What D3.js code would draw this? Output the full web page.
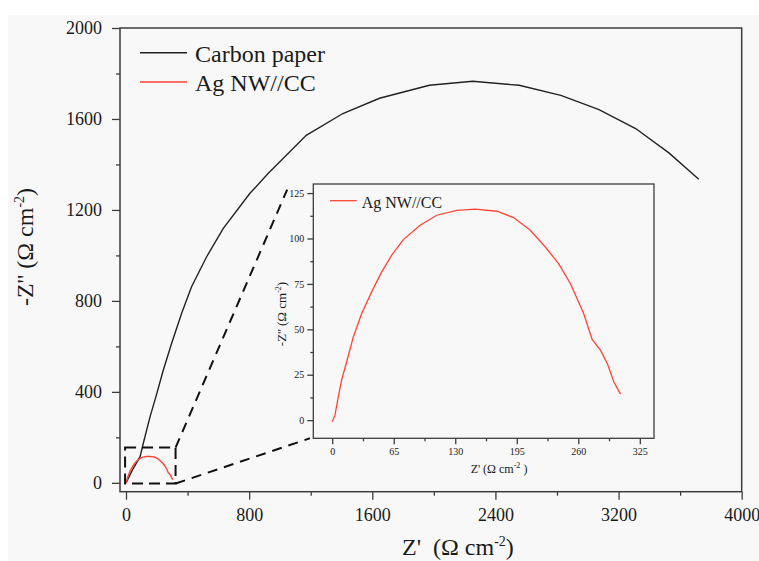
<!DOCTYPE html>
<html>
<head>
<meta charset="utf-8">
<script src="https://cdn.jsdelivr.net/npm/d3@7"></script>
<style>
  html, body { margin: 0; padding: 0; background: #ffffff; }
  svg { display: block; }
</style>
</head>
<body>
<svg id="chart" width="759" height="561"></svg>
<script>
// ---------------- data ----------------
const carbonZre = [0, 40, 91, 112, 156, 194, 242, 296, 361, 426, 523, 631, 804, 923, 1171, 1409, 1647, 1971, 2252, 2554, 2825, 3073, 3311, 3527, 3721];
const carbonZim = [0, 55, 114, 173, 290, 378, 495, 613, 745, 862, 993, 1118, 1272, 1360, 1528, 1624, 1691, 1748, 1766, 1748, 1704, 1641, 1558, 1451, 1335];

const agZre = [0, 2.9, 6.4, 9.9, 15.2, 22.3, 31.1, 41.7, 52.3, 62.9, 75.2, 92.8, 110.5, 131.7, 151, 174, 191.6, 209.3, 225.2, 239.2, 251.6, 265.7, 274.6, 283.4, 291.1, 297.5, 304.6];
const agZim = [-0.9, 2.75, 12.8, 22, 32, 45.8, 58.7, 70.6, 81.6, 90.8, 99.4, 107.3, 112.8, 115.5, 116.2, 115, 111.5, 104.5, 95.3, 86.2, 75.2, 58.7, 44.4, 38.5, 30.6, 21.1, 14.3];

const seriesNames = ["Carbon paper", "Ag NW//CC"];
const mainXTicks = [0, 800, 1600, 2400, 3200, 4000];
const mainXMinor = [400, 1200, 2000, 2800, 3600];
const mainYTicks = [0, 400, 800, 1200, 1600, 2000];
const mainYMinor = [200, 600, 1000, 1400, 1800];
const insetXTicks = [0, 65, 130, 195, 260, 325];
const insetXMinor = [32.5, 97.5, 162.5, 227.5, 292.5];
const insetYTicks = [0, 25, 50, 75, 100, 125];
const insetYMinor = [12.5, 37.5, 62.5, 87.5, 112.5];
const zoomBox = [-6, 322, -3, 155]; // x0, x1, y0, y1 in main data units

// ---------------- drawing ----------------
const FONT = "'Liberation Serif'";
const svg = d3.select("#chart").style("font-family", FONT).attr("font-family", FONT);
const BLACK = "#222222", RED = "#ff4433", AXIS = "#3d3d3d", TXT = "#1a1a1a";

function T(sel, size) {
  return sel.style("font-family", FONT).attr("font-family", FONT).style("font-size", size + "px").attr("fill", TXT);
}

svg.append("rect").attr("x", 8).attr("y", 15).attr("width", 751).attr("height", 546).attr("fill", "#f8f8f8");

const x = d3.scaleLinear().domain([-39, 4000]).range([120, 741.7]);
const y = d3.scaleLinear().domain([-39, 2000]).range([491.7, 28]);

const ix = d3.scaleLinear().domain([-20, 340]).range([313.3, 654]);
const iy = d3.scaleLinear().domain([-10, 130]).range([438.3, 184]);

const carbon = carbonZre.map((v, i) => [v, carbonZim[i]]);
const ag = agZre.map((v, i) => [v, agZim[i]]);

function styleAxis(g, fontSize) {
  g.attr("font-family", FONT).attr("font-size", fontSize);
  g.select(".domain").remove();
  g.selectAll("line").attr("stroke", AXIS).attr("stroke-width", 1.3);
  T(g.selectAll("text"), fontSize);
}

// main axes
const gxMinor = svg.append("g").attr("transform", `translate(0,${y.range()[0]})`)
  .call(d3.axisBottom(x).tickValues(mainXMinor).tickSize(4).tickSizeOuter(0).tickFormat(""));
styleAxis(gxMinor, 18);
const gx = svg.append("g").attr("transform", `translate(0,${y.range()[0]})`)
  .call(d3.axisBottom(x).tickValues(mainXTicks).tickSize(8).tickPadding(9).tickSizeOuter(0).tickFormat(d3.format("d")));
styleAxis(gx, 18);

const gyMinor = svg.append("g").attr("transform", `translate(${x.range()[0]},0)`)
  .call(d3.axisLeft(y).tickValues(mainYMinor).tickSize(4).tickSizeOuter(0).tickFormat(""));
styleAxis(gyMinor, 18);
const gy = svg.append("g").attr("transform", `translate(${x.range()[0]},0)`)
  .call(d3.axisLeft(y).tickValues(mainYTicks).tickSize(8).tickPadding(10).tickSizeOuter(0).tickFormat(d3.format("d")));
styleAxis(gy, 18);

svg.append("rect")
  .attr("x", x.range()[0]).attr("y", y.range()[1])
  .attr("width", x.range()[1] - x.range()[0]).attr("height", y.range()[0] - y.range()[1])
  .attr("fill", "none").attr("stroke", AXIS).attr("stroke-width", 1.5);

// main curves
const line = d3.line().x(d => x(d[0])).y(d => y(d[1]));
svg.append("path").datum(carbon).attr("d", line).attr("fill", "none").attr("stroke", BLACK).attr("stroke-width", 1.4);
svg.append("path").datum(ag).attr("d", line).attr("fill", "none").attr("stroke", RED).attr("stroke-width", 1.4);

// zoom box + connectors
const bx0 = x(zoomBox[0]), bx1 = x(zoomBox[1]), by0 = y(zoomBox[2]), by1 = y(zoomBox[3]);
svg.append("rect").attr("x", bx0).attr("y", by1).attr("width", bx1 - bx0).attr("height", by0 - by1)
  .attr("fill", "none").attr("stroke", "#111").attr("stroke-width", 2).attr("stroke-dasharray", "11,6");
svg.append("line").attr("x1", bx1).attr("y1", by1).attr("x2", ix(-47.6)).attr("y2", iy(126.9))
  .attr("stroke", "#111").attr("stroke-width", 2).attr("stroke-dasharray", "10,7");
svg.append("line").attr("x1", bx1).attr("y1", by0).attr("x2", ix(-23.6)).attr("y2", iy(-10))
  .attr("stroke", "#111").attr("stroke-width", 2).attr("stroke-dasharray", "10,7");

// main legend
const legend = svg.append("g");
[[BLACK, 52.7, 61.7], [RED, 82, 90.7]].forEach((s, i) => {
  legend.append("line").attr("x1", 140).attr("x2", 187).attr("y1", s[1]).attr("y2", s[1])
    .attr("stroke", s[0]).attr("stroke-width", 1.4);
  T(legend.append("text").attr("x", 195).attr("y", s[2]), 24).text(seriesNames[i]);
});

// main axis titles
const xt = T(svg.append("text").attr("x", 402).attr("y", 555), 24);
xt.append("tspan").text("Z'\u00a0 (\u03a9 cm");
xt.append("tspan").attr("dy", -9).style("font-size", "14px").text("-2");
xt.append("tspan").attr("dy", 9).text(")");

const yt = T(svg.append("text").attr("transform", "translate(33,247) rotate(-90)")
  .attr("text-anchor", "middle"), 24);
yt.append("tspan").text("-Z'' (\u03a9 cm");
yt.append("tspan").attr("dy", -9).style("font-size", "14px").text("-2");
yt.append("tspan").attr("dy", 9).text(")");

// ---------------- inset ----------------
const inset = svg.append("g");
inset.append("rect").attr("x", ix.range()[0]).attr("y", iy.range()[1])
  .attr("width", ix.range()[1] - ix.range()[0]).attr("height", iy.range()[0] - iy.range()[1])
  .attr("fill", "#f8f8f8").attr("stroke", "none");

const igxMinor = inset.append("g").attr("transform", `translate(0,${iy.range()[0]})`)
  .call(d3.axisBottom(ix).tickValues(insetXMinor).tickSize(3).tickSizeOuter(0).tickFormat(""));
styleAxis(igxMinor, 10);
const igx = inset.append("g").attr("transform", `translate(0,${iy.range()[0]})`)
  .call(d3.axisBottom(ix).tickValues(insetXTicks).tickSize(6).tickPadding(4).tickSizeOuter(0).tickFormat(d3.format("d")));
styleAxis(igx, 10);
const igyMinor = inset.append("g").attr("transform", `translate(${ix.range()[0]},0)`)
  .call(d3.axisLeft(iy).tickValues(insetYMinor).tickSize(3).tickSizeOuter(0).tickFormat(""));
styleAxis(igyMinor, 10);
const igy = inset.append("g").attr("transform", `translate(${ix.range()[0]},0)`)
  .call(d3.axisLeft(iy).tickValues(insetYTicks).tickSize(6).tickPadding(3).tickSizeOuter(0).tickFormat(d3.format("d")));
styleAxis(igy, 10);

inset.append("rect").attr("x", ix.range()[0]).attr("y", iy.range()[1])
  .attr("width", ix.range()[1] - ix.range()[0]).attr("height", iy.range()[0] - iy.range()[1])
  .attr("fill", "none").attr("stroke", AXIS).attr("stroke-width", 1.3);

const iline = d3.line().x(d => ix(d[0])).y(d => iy(d[1]));
inset.append("path").datum(ag).attr("d", iline).attr("fill", "none").attr("stroke", RED).attr("stroke-width", 1.3);

inset.append("line").attr("x1", 330).attr("x2", 356.7).attr("y1", 200.7).attr("y2", 200.7)
  .attr("stroke", RED).attr("stroke-width", 1.3);
T(inset.append("text").attr("x", 361.7).attr("y", 208), 16).text(seriesNames[1]);

const ixt = T(inset.append("text").attr("x", 499).attr("y", 473).attr("text-anchor", "middle"), 12);
ixt.append("tspan").text("Z' (\u03a9 cm");
ixt.append("tspan").attr("dy", -5).style("font-size", "8px").text("-2");
ixt.append("tspan").attr("dy", 5).text(" )");

const iyt = T(inset.append("text").attr("transform", "translate(286,314) rotate(-90)")
  .attr("text-anchor", "middle"), 13);
iyt.append("tspan").text("-Z'' (\u03a9 cm");
iyt.append("tspan").attr("dy", -5).style("font-size", "8px").text("-2");
iyt.append("tspan").attr("dy", 5).text(")");
</script>
</body>
</html>
